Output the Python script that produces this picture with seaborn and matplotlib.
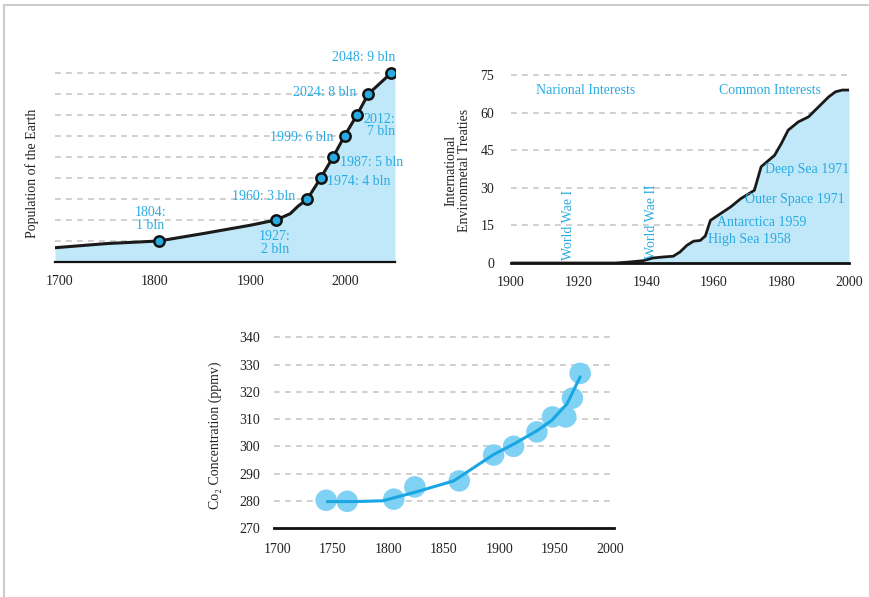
import matplotlib
matplotlib.use("Agg")
import matplotlib.pyplot as plt
from matplotlib.lines import Line2D
import seaborn as sns

sns.set_style("white")
plt.rcParams['font.family'] = ['Liberation Serif', 'DejaVu Serif']
plt.rcParams['font.size'] = 10

BLUE = '#29abe2'
FILL = '#c0e8f9'
GRID = '#c4c4c4'
DASH = (0, (3.8, 3.4))

# --- population of the earth (billions) ---
pop_line_years = [1695, 1750, 1804, 1850, 1900, 1927, 1942, 1950, 1960,
                  1974, 1987, 1999, 2012, 2024, 2048, 2052]
pop_line_vals = [0.68, 0.88, 1.0, 1.35, 1.75, 2.0, 2.3, 2.65, 3.0,
                 4.0, 5.0, 6.0, 7.0, 8.0, 9.0, 9.15]
milestone_years = [1804, 1927, 1960, 1974, 1987, 1999, 2012, 2024, 2048]
milestone_pop = [1, 2, 3, 4, 5, 6, 7, 8, 9]

# --- international environmental treaties ---
treaty_years = [1900, 1931, 1935, 1939, 1942, 1945, 1948, 1950, 1952, 1954,
                1956, 1957.5, 1959, 1962, 1965, 1968, 1972, 1974, 1978,
                1980, 1982, 1985, 1988, 1991, 1994, 1996, 1998, 2000]
treaty_counts = [0, 0, 0.4, 0.9, 2.0, 2.4, 2.7, 4.4, 7.0, 8.7,
                 9.0, 10.8, 17.0, 19.7, 22.4, 25.7, 29.0, 38.4, 43.0,
                 47.7, 53.0, 56.3, 58.3, 62.3, 66.3, 68.3, 69.0, 69.0]

# --- CO2 concentration (ppmv) ---
co2_years = [1744, 1763, 1805, 1824, 1864, 1895, 1913, 1934, 1948, 1960, 1966, 1973]
co2_vals = [280.2, 279.8, 280.6, 285.1, 287.3, 296.8, 300.0, 305.3, 310.8, 310.8, 317.7, 326.8]
co2_fit_years = [1745, 1770, 1795, 1823, 1859, 1895, 1913, 1934, 1947, 1961, 1973]
co2_fit_vals = [279.7, 279.7, 280.0, 283.0, 287.3, 297.0, 300.8, 305.7, 309.4, 315.5, 325.5]

fig = plt.figure(figsize=(8.69, 5.97), dpi=100)
W, H = 869, 597


def add_axes_px(left, bottom, width, height):
    return fig.add_axes([left / W, (H - bottom) / H, width / W, height / H])


def style_axes(ax, spine_lw):
    for s in ['top', 'right', 'left']:
        ax.spines[s].set_visible(False)
    ax.spines['bottom'].set_color('#111111')
    ax.spines['bottom'].set_linewidth(spine_lw)
    ax.set_axisbelow(True)
    ax.yaxis.grid(True, linestyle=DASH, color=GRID, lw=1.1)
    ax.xaxis.grid(False)
    ax.tick_params(length=0, labelsize=10, colors='#222222')


# ---------------- top-left: population ----------------
ax1 = add_axes_px(55, 262, 340, 210)
ax1.fill_between(pop_line_years, pop_line_vals, 0, color=FILL, lw=0, zorder=1)
sns.lineplot(x=pop_line_years, y=pop_line_vals, ax=ax1, color='#1a1a1a', lw=2.2,
             sort=False, zorder=3)
sns.scatterplot(x=milestone_years, y=milestone_pop, ax=ax1, color=BLUE, s=55,
                edgecolor='#111111', linewidth=1.8, zorder=4)
ax1.set_xlim(1695, 2052)
ax1.set_ylim(0, 10)
ax1.set_xticks([1700, 1800, 1900, 2000])
ax1.set_yticks(milestone_pop)
ax1.set_yticklabels([])
style_axes(ax1, 1.6)
ax1.tick_params(axis='x', pad=9)
ax1.set_ylabel('Population of the Earth', fontsize=10, color='#222222')
ax1.yaxis.label.set_va('center')
ax1.yaxis.set_label_coords(-0.068, 0.42)

lab = dict(color=BLUE, fontsize=10, linespacing=0.95, zorder=5)
ax1.text(2052, 9.76, '2048: 9 bln', ha='right', va='center', **lab)
ax1.text(2011, 8.05, '2024: 8 bln', ha='right', va='center', **lab)
ax1.text(2052, 6.5, '2012:\n7 bln', ha='right', va='center', multialignment='right', **lab)
ax1.text(1987, 5.95, '1999: 6 bln', ha='right', va='center', **lab)
ax1.text(1994, 4.76, '1987: 5 bln', ha='left', va='center', **lab)
ax1.text(1981, 3.81, '1974: 4 bln', ha='left', va='center', **lab)
ax1.text(1947, 3.14, '1960: 3 bln', ha='right', va='center', **lab)
ax1.text(1795, 2.05, '1804:\n1 bln', ha='center', va='center', **lab)
ax1.text(1926, 0.9, '1927:\n2 bln', ha='center', va='center', **lab)

# ---------------- top-right: treaties ----------------
ax2 = add_axes_px(511, 263, 338, 195.5)
ax2.fill_between(treaty_years, treaty_counts, 0, color=FILL, lw=0, zorder=1)
sns.lineplot(x=treaty_years, y=treaty_counts, ax=ax2, color='#1a1a1a', lw=2.0,
             sort=False, zorder=3)
ax2.set_xlim(1900, 2000)
ax2.set_ylim(0, 78)
ax2.set_xticks(range(1900, 2001, 20))
ax2.set_yticks(range(0, 76, 15))
style_axes(ax2, 2.0)
ax2.tick_params(axis='x', pad=9)
ax2.tick_params(axis='y', pad=12)
ax2.set_ylabel('International\nEnvironmetal Treaties', fontsize=10, color='#222222',
               linespacing=1.0)
ax2.yaxis.label.set_va('center')
ax2.yaxis.set_label_coords(-0.158, 0.476)

ax2.text(1922, 69, 'Narional Interests', ha='center', va='center', **lab)
ax2.text(1976.6, 69, 'Common Interests', ha='center', va='center', **lab)
ax2.text(1987.6, 37.5, 'Deep Sea 1971', ha='center', va='center', **lab)
ax2.text(1984, 25.5, 'Outer Space 1971', ha='center', va='center', **lab)
ax2.text(1974.3, 16, 'Antarctica 1959', ha='center', va='center', **lab)
ax2.text(1970.4, 9.2, 'High Sea 1958', ha='center', va='center', **lab)
ax2.text(1916.9, 15.2, 'World Wae I', ha='center', va='center', rotation=90, **lab)
ax2.text(1941.7, 16.4, 'World Wae II', ha='center', va='center', rotation=90, **lab)

# ---------------- bottom: CO2 ----------------
ax3 = add_axes_px(274, 528, 340, 204.2)
sns.scatterplot(x=co2_years, y=co2_vals, ax=ax3, color='#80d2f4', s=240,
                edgecolor='none', linewidth=0, zorder=3)
sns.lineplot(x=co2_fit_years, y=co2_fit_vals, ax=ax3, color='#1aa6e2', lw=2.2,
             sort=False, zorder=4)
ax3.set_xlim(1697, 2003.5)
ax3.set_ylim(270, 345)
ax3.set_xticks(range(1700, 2001, 50))
ax3.set_yticks(range(270, 341, 10))
style_axes(ax3, 2.0)
ax3.tick_params(axis='x', pad=11)
ax3.tick_params(axis='y', pad=10)
ax3.set_ylabel('Co₂ Concentration (ppmv)', fontsize=10, color='#222222')
ax3.yaxis.label.set_va('center')
ax3.yaxis.set_label_coords(-0.1735, 0.456)

# thin grey frame (top and left edges)
fig.add_artist(Line2D([3.5 / W, 3.5 / W], [0, 1 - 4.5 / H], color='#cccccc', lw=1.5))
fig.add_artist(Line2D([3.5 / W, 868 / W], [1 - 4.5 / H, 1 - 4.5 / H], color='#cccccc', lw=1.5))

fig.savefig('out.png', dpi=100)
